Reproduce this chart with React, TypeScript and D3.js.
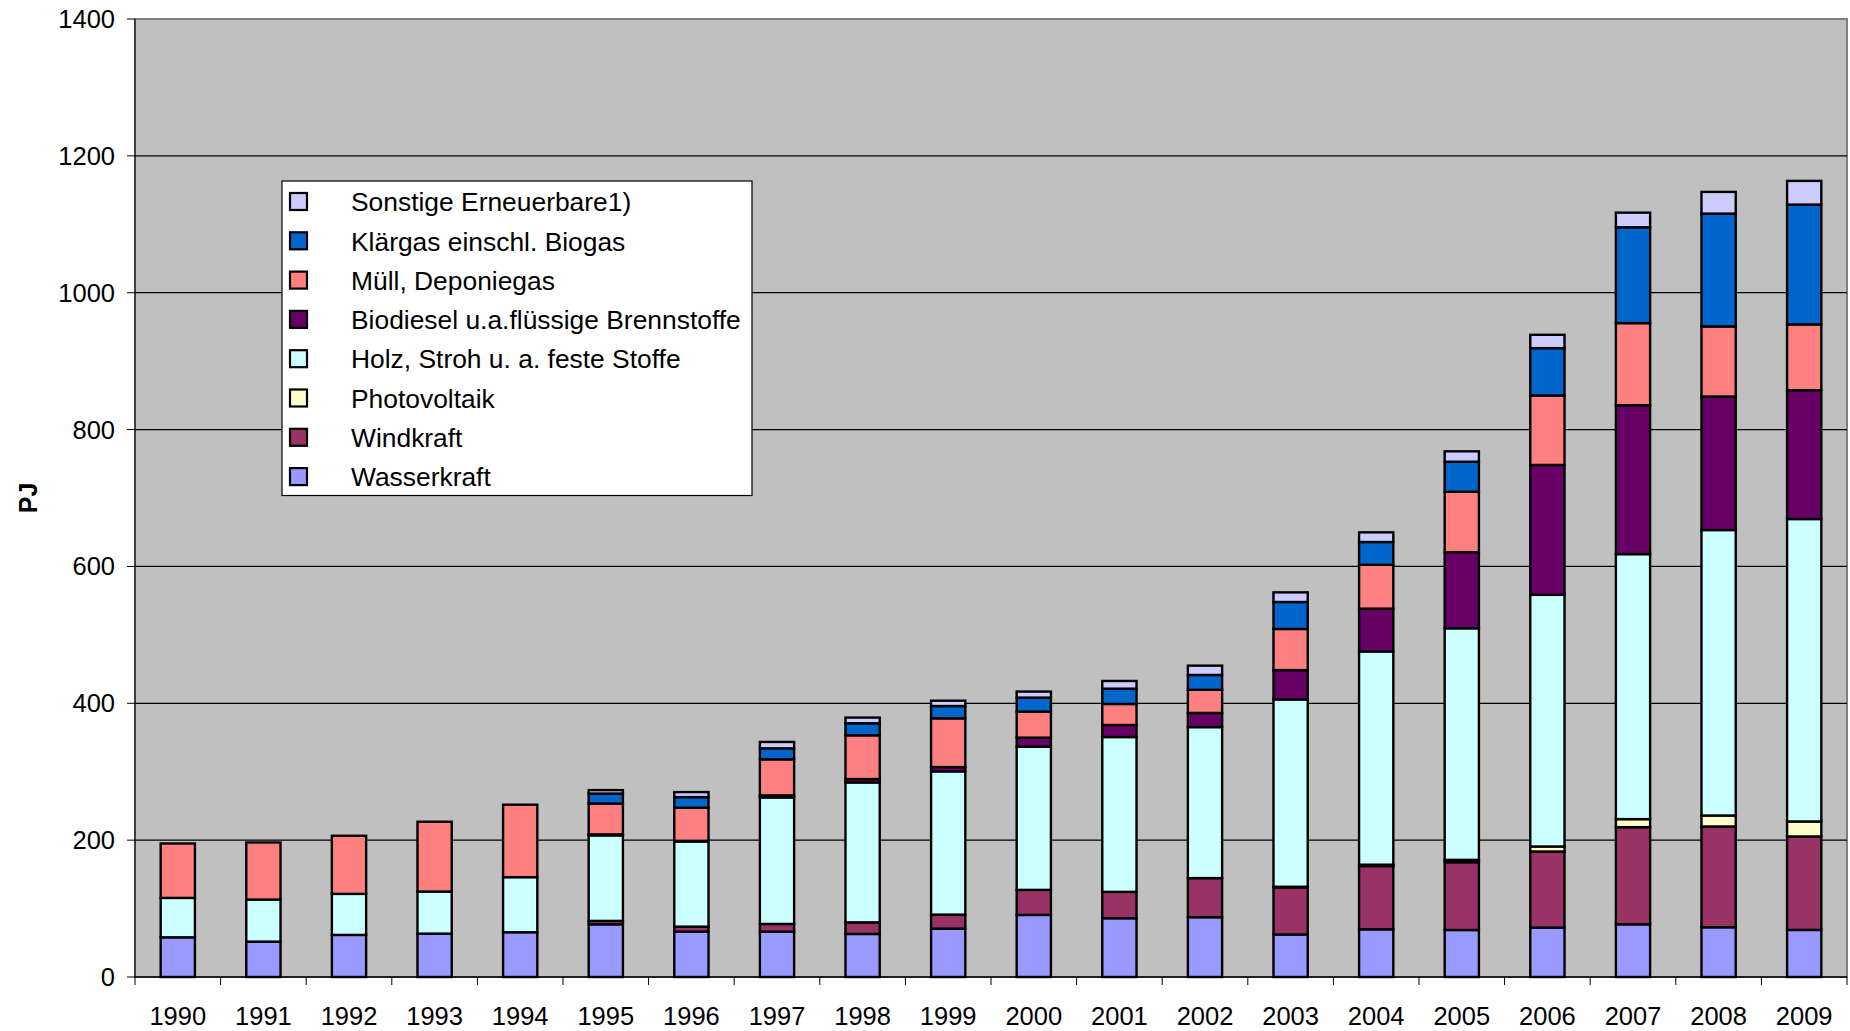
import * as d3 from "d3";

const years = [
  "1990", "1991", "1992", "1993", "1994", "1995", "1996", "1997", "1998", "1999",
  "2000", "2001", "2002", "2003", "2004", "2005", "2006", "2007", "2008", "2009",
];

// PJ per year
const wasserkraft = [58, 51.7, 61.5, 63.4, 65.4, 77, 66.3, 66.3, 62.9, 70.7, 90.7, 85.9, 87.4, 62.1, 69.7, 68.7, 72.2, 77, 72.7, 68.8];
const windkraft = [0, 0, 0, 0, 0, 5, 7.3, 11.2, 17, 20.5, 36.6, 38.5, 57.1, 68.7, 92.4, 99, 111.2, 142, 147.3, 136.6];
const photovoltaik = [0, 0, 0, 0, 0, 0, 0, 0, 0, 0, 0, 0, 0, 1.1, 2, 3.5, 7.3, 11.7, 16, 21.9];
const holz = [57.6, 61.5, 60, 61.5, 80.5, 125, 124.4, 184.9, 204.4, 209.3, 209.3, 226.3, 220.7, 273.7, 311.6, 338.4, 367.8, 387.3, 417.2, 442];
const biodiesel = [0, 0, 0, 0, 0, 1.5, 1, 3, 5, 6.3, 13.2, 17.6, 20.7, 42.9, 62.6, 111.1, 189.8, 217.6, 195.1, 188.3];
const muell = [79.5, 83.4, 84.9, 102, 105.9, 45, 48.3, 52.7, 63.9, 71.2, 38, 30.7, 33.8, 60.1, 64.1, 88.4, 101.5, 120, 102.4, 96.1];
const klaergas = [0, 0, 0, 0, 0, 14.6, 15.6, 16.1, 17.6, 18, 20.5, 22.4, 21.7, 39.4, 33.3, 43.9, 69.2, 140, 164.9, 175.1];
const sonstige = [0, 0, 0, 0, 0, 5, 7.3, 9.3, 8.3, 7.8, 8.8, 11.2, 13.6, 14.1, 14.1, 15.2, 19.5, 21.4, 31.7, 34.6];

const seriesNames = [
  "Wasserkraft",
  "Windkraft",
  "Photovoltaik",
  "Holz, Stroh u. a. feste Stoffe",
  "Biodiesel u.a.flüssige Brennstoffe",
  "Müll, Deponiegas",
  "Klärgas einschl. Biogas",
  "Sonstige Erneuerbare1)",
];
const seriesValues = [wasserkraft, windkraft, photovoltaik, holz, biodiesel, muell, klaergas, sonstige];
const colors = ["#9999FF", "#993366", "#FFFFCC", "#CCFFFF", "#660066", "#FF8080", "#0066CC", "#CCCCFF"];

const yTicks = [0, 200, 400, 600, 800, 1000, 1200, 1400];

const width = 1850;
const height = 1031;
const marginLeft = 135;
const marginRight = 3;
const marginTop = 19;
const marginBottom = 54;
const font = "'Liberation Sans', Arial, sans-serif";

export default function App() {
  const table = years.map((year, i) => {
    const row: Record<string, any> = { year };
    seriesNames.forEach((name, j) => (row[name] = seriesValues[j][i]));
    return row;
  });
  const stacked = d3.stack<any>().keys(seriesNames)(table);

  const x = d3.scaleBand(years, [marginLeft, width - marginRight]);
  const y = d3.scaleLinear([0, 1400], [height - marginBottom, marginTop]);
  const barW = x.bandwidth() * 0.4;
  const x0 = y(0);

  const legendX = 282;
  const legendY = 181;
  const rowH = 39.3;

  return (
    <svg
      width={width}
      height={height}
      style={{ position: "absolute", left: 0, top: 0, background: "#fff" }}
      fontFamily={font}
    >
      {/* plot area */}
      <rect
        x={marginLeft}
        y={marginTop}
        width={width - marginRight - marginLeft}
        height={x0 - marginTop}
        fill="#C0C0C0"
        stroke="#808080"
        strokeWidth={2}
      />
      {yTicks.slice(1, -1).map((t) => (
        <line key={t} x1={marginLeft} x2={width - marginRight} y1={y(t)} y2={y(t)} stroke="#000" strokeWidth={1.2} />
      ))}

      {/* bars */}
      {stacked.map((layer, j) => (
        <g key={layer.key} fill={colors[j]} stroke="#000" strokeWidth={2.4}>
          {layer.map((d, i) =>
            d[1] - d[0] > 0 ? (
              <rect
                key={i}
                x={x(years[i])! + (x.bandwidth() - barW) / 2}
                y={y(d[1])}
                width={barW}
                height={y(d[0]) - y(d[1])}
              />
            ) : null
          )}
        </g>
      ))}

      {/* y axis */}
      <line x1={marginLeft} x2={marginLeft} y1={marginTop} y2={x0} stroke="#000" strokeWidth={1} />
      {yTicks.map((t) => (
        <g key={t} transform={`translate(0,${y(t)})`}>
          <line x1={marginLeft - 8} x2={marginLeft} stroke="#000" strokeWidth={1} />
          <text x={marginLeft - 20} dy="0.35em" textAnchor="end" fontSize={25.5} fill="#000">
            {t}
          </text>
        </g>
      ))}
      <text
        transform={`translate(28,${(marginTop + x0) / 2}) rotate(-90)`}
        textAnchor="middle"
        dy="0.35em"
        fontSize={25}
        fontWeight="bold"
      >
        PJ
      </text>

      {/* x axis */}
      <line x1={marginLeft} x2={width - marginRight} y1={x0} y2={x0} stroke="#000" strokeWidth={1.5} />
      {[...years.map((yr) => x(yr)!), width - marginRight].map((px, i) => (
        <line key={i} x1={px} x2={px} y1={x0} y2={x0 + 8} stroke="#000" strokeWidth={1} />
      ))}
      {years.map((yr) => (
        <text key={yr} x={x(yr)! + x.bandwidth() / 2} y={1025} textAnchor="middle" fontSize={25.5}>
          {yr}
        </text>
      ))}

      {/* legend */}
      <rect x={legendX} y={legendY} width={470} height={314.5} fill="#fff" stroke="#000" strokeWidth={1.2} />
      {seriesNames
        .map((name, j) => ({ name, color: colors[j] }))
        .reverse()
        .map((s, i) => (
          <g key={s.name} transform={`translate(${legendX},${legendY + 21 + i * rowH})`}>
            <rect x={8} y={-9} width={17} height={17} fill={s.color} stroke="#000" strokeWidth={2.2} />
            <text x={69} dy="0.35em" fontSize={26.4}>
              {s.name}
            </text>
          </g>
        ))}
    </svg>
  );
}
